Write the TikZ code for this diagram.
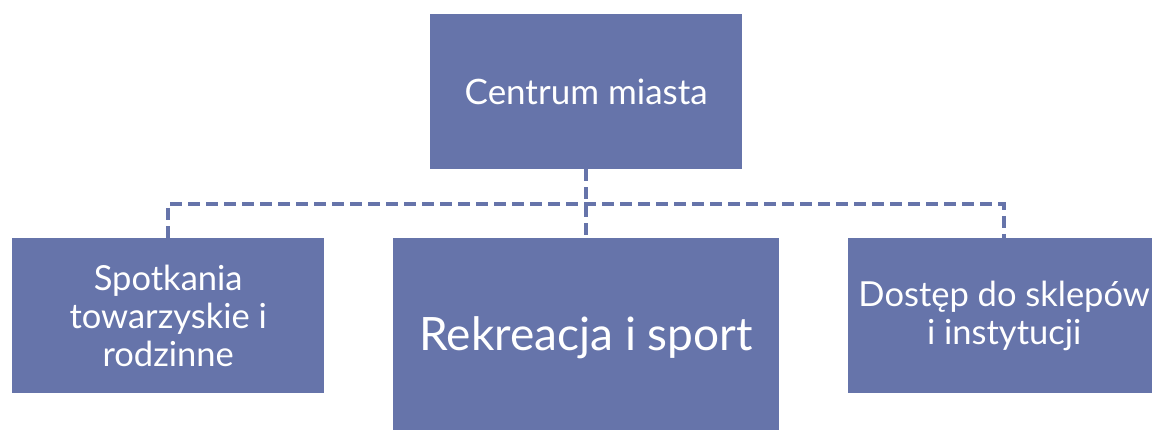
\documentclass[tikz,border=0pt]{standalone}
\usepackage{fontspec}
\setmainfont{Lato}
\definecolor{boxblue}{RGB}{102,116,170}
\begin{document}
\begin{tikzpicture}[x=1pt,y=-1pt,
  box/.style={draw=none,fill=boxblue,text=white,align=center,inner sep=0pt,anchor=north west},
  conn/.style={draw=boxblue,line width=3.5pt,dash pattern=on 12pt off 6pt}]
\useasboundingbox (0,0) rectangle (1152,430);
\clip (0,0) rectangle (1152,430);
\node[box,minimum width=312pt,minimum height=155pt,font=\fontsize{35}{40}\selectfont] (top) at (430,14) {Centrum miasta};
\node[box,minimum width=312pt,minimum height=155pt,font=\fontsize{34.5}{38}\selectfont] (left) at (12,238) {Spotkania\\towarzyskie i\\rodzinne};
\node[box,minimum width=386pt,minimum height=200pt,font=\fontsize{46}{54}\selectfont] (mid) at (393,238) {Rekreacja i sport};
\node[box,minimum width=312pt,minimum height=155pt,font=\fontsize{34.5}{38}\selectfont] (right) at (848,238) {Dostęp do sklepów\\i instytucji};
\coordinate (bus) at (586,204);
\draw[conn] (top.south) -- (mid.north);
\draw[conn] (left.north) -- (left.north |- bus) -- (right.north |- bus) -- (right.north);
\end{tikzpicture}
\end{document}
